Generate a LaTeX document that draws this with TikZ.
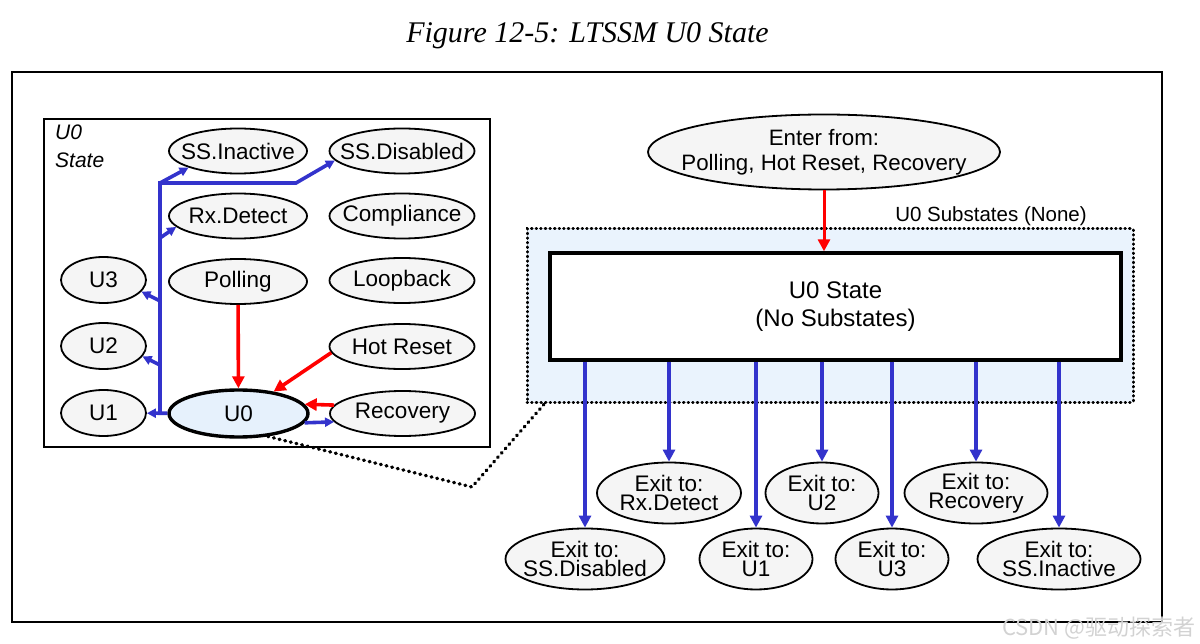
\documentclass[tikz,border=0pt]{standalone}
\usepackage{fontspec}
\setmainfont{Liberation Sans}
\newfontfamily\capfont{Liberation Serif}
\newfontfamily\cjkfont{Noto Sans CJK SC}
\usetikzlibrary{arrows.meta,shapes.geometric}
\definecolor{lnblue}{HTML}{3333CC}
\definecolor{stfill}{HTML}{F5F5F5}
\definecolor{u0fill}{HTML}{E6F1FC}
\definecolor{subfill}{HTML}{EAF3FD}

\begin{document}
\begin{tikzpicture}[x=1pt,y=-1pt,>={Triangle[length=12pt,width=12pt]},
    ustate/.style={ellipse,draw,fill=stfill,line width=1.8pt,inner xsep=-30pt,inner ysep=0pt,
      minimum height=45pt,font=\fontsize{22.5}{19}\selectfont},
    exitst/.style={ustate,align=center,minimum height=61pt},
    blu/.style={lnblue,line width=3.6pt},
    rd/.style={red,line width=3.6pt},
    smtip/.style={-{Triangle[length=9pt,width=9pt]}},
    zoomln/.style={line width=3.4pt,dash pattern=on 0.8pt off 5pt,line cap=round}]
    \useasboundingbox (0,0) rectangle (1200,644);
    \node[font=\capfont\itshape\fontsize{30}{34}\selectfont] (title) at (587.5,36) {Figure 12-5: LTSSM U0 State};
    \draw[line width=1.8pt] (12,72) rectangle (1162,622);

    % left: the whole LTSSM with U0 picked out
    \draw[line width=1.6pt] (44,119) rectangle (490,447);
    \node[anchor=north west,align=left,inner sep=0pt,font=\itshape\fontsize{21}{28}\selectfont] (u0lbl) at (55,125) {U0\\State};

    \node[ustate,minimum width=138pt] (ssin)  at (238,151)   {SS.Inactive};
    \node[ustate,minimum width=145pt] (ssdis) at (402,151)   {SS.Disabled};
    \node[ustate,minimum width=138pt] (rxd)   at (238,216)   {Rx.Detect};
    \node[ustate,minimum width=145pt] (comp)  at (402,216)   {Compliance};
    \node[ustate,minimum width=85pt,minimum height=46pt] (u3) at (103.5,280) {U3};
    \node[ustate,minimum width=138pt] (poll)  at (238,281.5) {Polling};
    \node[ustate,minimum width=145pt] (loop)  at (402,280.5) {Loopback};
    \node[ustate,minimum width=85pt,minimum height=46pt] (u2) at (103.5,346) {U2};
    \node[ustate,minimum width=145pt] (hot)   at (402,346.5) {Hot Reset};
    \node[ustate,minimum width=85pt,minimum height=46pt] (u1) at (103.5,413) {U1};
    \node[ustate,minimum width=139pt,minimum height=47pt,fill=u0fill,line width=3.4pt] (u0) at (238.5,413.5) {U0};
    \node[ustate,minimum width=145pt] (rec)   at (402.5,413.5) {Recovery};

    \coordinate (tt) at (160,183);
    \coordinate (tk) at (296,183);
    \coordinate (tb) at (160,413);
    \coordinate (tr) at (160,238);
    \coordinate (t3) at (160,301);
    \coordinate (t2) at (160,365);

    \draw[blu,smtip] (tb) -- (tt) -- (tk) -- (ssdis.188);
    \path[blu,smtip]
    (u0) edge (u1)
    (tt) edge (ssin.south west)
    (tr) edge (rxd.190)
    (t3) edge (u3.343)
    (t2) edge (u2.345)
    (u0.352) edge (rec.187)
    ;
    \path[rd,->]
    (poll) edge (u0)
    (hot.185) edge (u0.32)
    (rec.173) edge (u0.8)
    ;

    % right: U0 close up
    \node[draw,line width=3pt,dash pattern=on 0.6pt off 4pt,line cap=round,fill=subfill,
      inner sep=0pt,minimum width=606pt,minimum height=173pt] (sub) at (830,315.5) {};
    \node[font=\fontsize{20.5}{24}\selectfont] (sublbl) at (991,216) {U0 Substates (None)};
    \node[draw,fill=white,line width=3.4pt,align=center,minimum width=571pt,minimum height=107pt,
      font=\fontsize{24}{28}\selectfont] (u0st) at (835.5,306.5) {U0 State\\(No Substates)};

    \coordinate (zk) at (472,487);
    \coordinate (ze) at (546,402);
    \draw[zoomln] (u0.322) -- (zk) -- (ze);

    \node[ustate,align=center,minimum width=352pt,minimum height=75pt,
      font=\fontsize{22.3}{24.5}\selectfont] (enter) at (824,152) {Enter from:\\Polling, Hot Reset, Recovery};
    \draw[rd,->,line width=3pt] (enter.south) -- (enter.south |- u0st.north);

    \node[exitst,minimum width=159pt] (exdis)  at (585,559)  {Exit to:\\SS.Disabled};
    \node[exitst,minimum width=144pt] (exrxd)  at (669,493)  {Exit to:\\Rx.Detect};
    \node[exitst,minimum width=113pt] (exu1)   at (756,559)  {Exit to:\\U1};
    \node[exitst,minimum width=113pt] (exu2)   at (822,493)  {Exit to:\\U2};
    \node[exitst,minimum width=113pt] (exu3)   at (892,559)  {Exit to:\\U3};
    \node[exitst,minimum width=143pt] (exrec)  at (976,493)  {Exit to:\\Recovery};
    \node[exitst,minimum width=163pt] (exssin) at (1059,559) {Exit to:\\SS.Inactive};

    \path[blu,->]
    (exdis.north |- u0st.south) edge (exdis)
    (exrxd.north |- u0st.south) edge (exrxd)
    (exu1.north |- u0st.south) edge (exu1)
    (exu2.north |- u0st.south) edge (exu2)
    (exu3.north |- u0st.south) edge (exu3)
    (exrec.north |- u0st.south) edge (exrec)
    (exssin.north |- u0st.south) edge (exssin)
    ;

    \node[anchor=south east,text=gray!35,font=\cjkfont\fontsize{22}{24}\selectfont] (wm) at (1199,643) {CSDN @驱动探索者};
  \end{tikzpicture}
\end{document}
